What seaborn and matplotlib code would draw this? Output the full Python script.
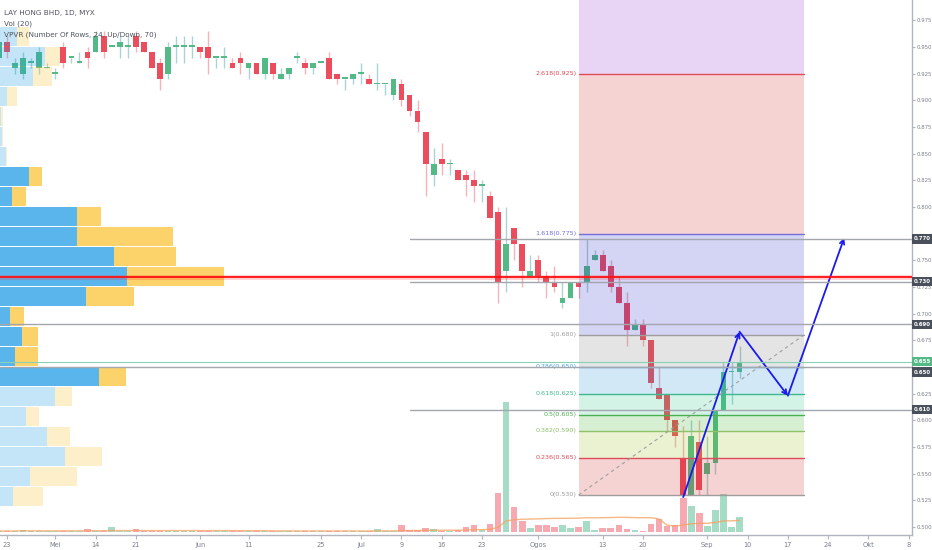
import numpy as np
import pandas as pd
import matplotlib
matplotlib.use("Agg")
import matplotlib.pyplot as plt
import seaborn as sns

# LAY HONG BHD daily candles, day 0 = 23 Apr (trading days)
DAY = list(range(-1, 92))
OPEN = [0.940,
        0.955, 0.930, 0.925, 0.935, 0.930, 0.930, 0.925, 0.950, 0.940, 0.935,
        0.945, 0.945, 0.960, 0.950, 0.950, 0.950, 0.960, 0.955, 0.945, 0.935,
        0.925, 0.950, 0.950, 0.950, 0.950, 0.950, 0.940, 0.940, 0.935, 0.940,
        0.930, 0.935, 0.925, 0.935, 0.920, 0.925, 0.940, 0.935, 0.930, 0.935,
        0.940, 0.925, 0.920, 0.920, 0.925, 0.920, 0.915, 0.915, 0.905, 0.915,
        0.905, 0.890, 0.870, 0.830, 0.845, 0.840, 0.835, 0.830, 0.825, 0.820,
        0.810, 0.795, 0.740, 0.780, 0.765, 0.735, 0.750, 0.735, 0.730, 0.710,
        0.715, 0.730, 0.730, 0.750, 0.755, 0.745, 0.725, 0.710, 0.685, 0.690,
        0.675, 0.630, 0.625, 0.600, 0.565, 0.530, 0.580, 0.550, 0.560, 0.610, 0.645, 0.645]
HIGH = [0.960,
        0.960, 0.940, 0.945, 0.940, 0.950, 0.935, 0.930, 0.955, 0.940, 0.945,
        0.950, 0.965, 0.965, 0.950, 0.960, 0.960, 0.965, 0.955, 0.945, 0.940,
        0.955, 0.960, 0.960, 0.960, 0.950, 0.965, 0.940, 0.950, 0.940, 0.945,
        0.935, 0.935, 0.940, 0.935, 0.930, 0.930, 0.945, 0.940, 0.935, 0.935,
        0.945, 0.925, 0.920, 0.925, 0.935, 0.925, 0.935, 0.915, 0.920, 0.920,
        0.905, 0.900, 0.870, 0.855, 0.860, 0.845, 0.835, 0.835, 0.835, 0.825,
        0.815, 0.800, 0.800, 0.780, 0.765, 0.755, 0.755, 0.740, 0.745, 0.730,
        0.730, 0.730, 0.770, 0.760, 0.760, 0.750, 0.735, 0.720, 0.695, 0.695,
        0.675, 0.650, 0.625, 0.600, 0.595, 0.600, 0.600, 0.585, 0.610, 0.655, 0.655, 0.670]
LOW = [0.935,
       0.940, 0.925, 0.920, 0.930, 0.925, 0.930, 0.920, 0.930, 0.935, 0.935,
       0.930, 0.945, 0.940, 0.950, 0.940, 0.940, 0.945, 0.945, 0.930, 0.910,
       0.920, 0.935, 0.935, 0.940, 0.940, 0.925, 0.930, 0.930, 0.930, 0.925,
       0.920, 0.925, 0.920, 0.920, 0.920, 0.920, 0.935, 0.925, 0.925, 0.935,
       0.920, 0.915, 0.910, 0.915, 0.915, 0.915, 0.910, 0.905, 0.900, 0.895,
       0.885, 0.870, 0.810, 0.820, 0.830, 0.830, 0.825, 0.810, 0.805, 0.805,
       0.790, 0.710, 0.720, 0.750, 0.725, 0.735, 0.730, 0.715, 0.720, 0.705,
       0.715, 0.715, 0.720, 0.750, 0.740, 0.720, 0.710, 0.670, 0.685, 0.670,
       0.630, 0.620, 0.590, 0.575, 0.530, 0.530, 0.530, 0.530, 0.550, 0.610, 0.615, 0.640]
CLOSE = [0.955,
         0.945, 0.935, 0.940, 0.935, 0.945, 0.930, 0.925, 0.935, 0.940, 0.935,
         0.940, 0.960, 0.945, 0.950, 0.955, 0.950, 0.950, 0.945, 0.930, 0.920,
         0.950, 0.950, 0.950, 0.950, 0.945, 0.940, 0.940, 0.940, 0.930, 0.935,
         0.935, 0.925, 0.940, 0.925, 0.925, 0.930, 0.940, 0.930, 0.935, 0.935,
         0.920, 0.920, 0.920, 0.925, 0.925, 0.915, 0.915, 0.915, 0.920, 0.900,
         0.890, 0.880, 0.840, 0.840, 0.840, 0.840, 0.825, 0.825, 0.820, 0.820,
         0.790, 0.730, 0.765, 0.765, 0.740, 0.740, 0.735, 0.730, 0.725, 0.715,
         0.730, 0.725, 0.745, 0.755, 0.740, 0.725, 0.710, 0.685, 0.690, 0.675,
         0.635, 0.620, 0.600, 0.585, 0.530, 0.585, 0.535, 0.560, 0.610, 0.645, 0.645, 0.655]
# volume (estimated, x10k shares)
VOLUME = [1,
          1, 1, 2, 1, 1, 1, 1, 1.5, 1, 1,
          2.7, 1, 1, 4.7, 1, 1, 2.7, 1, 1, 1,
          1, 1, 1, 1, 1.5, 1, 1, 1, 1, 1,
          1, 1, 1, 1, 1, 1, 1, 1, 1, 1,
          1, 1, 1, 1, 1, 1, 3, 1, 1, 7,
          2, 2, 4, 3, 1.5, 1, 2, 5, 7, 2,
          8, 39, 130, 25, 11, 4, 7, 7, 5, 7,
          4, 5, 11, 2, 4, 4, 7, 3, 2, 1,
          8, 13, 6, 7, 34, 26, 19, 6, 22, 38, 5, 15]

# volume profile, 24 rows bottom -> top
VP_LO, VP_HI = 0.519, 0.969
VP_UP = [13, 30, 65, 47, 26, 55, 99, 15, 22, 10, 86, 127, 114, 77, 77, 12, 29, 6, 2, 1, 7, 33, 45, 17]
VP_DOWN = [30, 47, 37, 23, 13, 17, 27, 23, 16, 14, 48, 97, 62, 96, 24, 14, 13, 1, 1, 2, 10, 19, 15, 12]
VA_ROWS = (6, 16)

# fibonacci retracement drawing
FIB_RATIO = [0, 0.236, 0.382, 0.5, 0.618, 0.786, 1, 1.618, 2.618, 3.618]
FIB_PRICE = [0.530, 0.565, 0.590, 0.605, 0.625, 0.650, 0.680, 0.775, 0.925, 1.075]
FIB_LINE = ["#9e9e9e", "#e04b5a", "#8fc06a", "#4caf50", "#3fb890", "#4aa8e8",
            "#9e9e9e", "#7070d8", "#e04b5a", "#9c40d0"]
FIB_FILL = ["#cd2323", "#96be1e", "#32af1e", "#28c387", "#1e8cd2",
            "#787878", "#2828c8", "#cd2323", "#8c28c8"]
FIB_FROM, FIB_TO = 71, 99

# horizontal lines and projected path
LEVELS = [0.770, 0.730, 0.690, 0.650, 0.610]
LEVEL_FROM = [50, 50, -1, -1, 50]
ARROW_X = [84, 91, 97, 104]
ARROW_Y = [0.528, 0.683, 0.623, 0.771]

PRICE_TICKS = [0.500, 0.525, 0.550, 0.575, 0.600, 0.625, 0.675, 0.700, 0.725, 0.750,
               0.800, 0.825, 0.850, 0.875, 0.900, 0.925, 0.950, 0.975]
DATE_POS = [0, 6, 11, 16, 24, 30, 39, 44, 49, 54, 59, 66, 74, 79, 87, 92, 97, 102, 107, 112]
DATE_LABELS = ["23", "Mei", "14", "21", "Jun", "11", "25", "Jul", "9", "16", "23",
               "Ogos", "13", "20", "Sep", "10", "17", "24", "Okt", "8"]

sns.set_theme(style="white")
plt.rcParams["font.family"] = ["DejaVu Sans"]

W, H = 932, 550
fig = plt.figure(figsize=(W / 100, H / 100), dpi=100)
fig.patch.set_facecolor("white")
ax = fig.add_axes([0, 15 / H, 912 / W, 535 / H])
ax_vol = ax.twinx()
ax.set_zorder(2)
ax_vol.set_zorder(1)
ax.patch.set_visible(False)

df = pd.DataFrame({"o": OPEN, "h": HIGH, "l": LOW, "c": CLOSE, "v": VOLUME}, index=DAY)
up = (df.c >= df.o).values
body_lo = df[["o", "c"]].min(axis=1)
body_h = (df.c - df.o).abs().clip(lower=0.0013)

ax.vlines(df.index, df.l, df.h, colors=np.where(up, "#a9d3d6", "#f4b3ba"), lw=1, zorder=2)
ax.bar(df.index, body_h, bottom=body_lo, width=0.72,
       color=np.where(up, "#53b987", "#eb4d5c"), lw=0, zorder=3)

# volume pane
ax_vol.bar(df.index, df.v, width=0.82, color=np.where(up, "#a6dcc6", "#f6a9b0"), lw=0)
ma = df.v.rolling(20, min_periods=1).mean()
sns.lineplot(x=df.index, y=ma.values, ax=ax_vol, color="#f6a05c", lw=1, alpha=0.75)
ax_vol.set_ylim(-3, 532)
ax_vol.axis("off")

XL = (-0.87, 112.42)
ax.set_xlim(*XL)
ax.set_ylim(0.4925, 0.9939)

# fibonacci zones + levels
for k in range(len(FIB_PRICE) - 1):
    ax.fill_between([FIB_FROM, FIB_TO], FIB_PRICE[k], FIB_PRICE[k + 1],
                    color=FIB_FILL[k], alpha=0.2, lw=0, zorder=4)
for r, p, c in zip(FIB_RATIO[:-1], FIB_PRICE[:-1], FIB_LINE[:-1]):
    ax.plot([FIB_FROM, FIB_TO], [p, p], color=c, lw=1, zorder=5)
    ax.text(FIB_FROM - 0.25, p, f"{r:g}({p:.3f})", color=c, fontsize=4.6,
            ha="right", va="center", zorder=6)
ax.plot([FIB_FROM, FIB_TO], [FIB_PRICE[0], FIB_PRICE[6]], color="#9e9e9e",
        lw=0.8, ls=(0, (3, 3)), zorder=5)

for k in range(len(ARROW_X) - 1):
    ax.annotate("", xy=(ARROW_X[k + 1], ARROW_Y[k + 1]), xytext=(ARROW_X[k], ARROW_Y[k]),
                arrowprops=dict(arrowstyle="->", color="#1a1af0", lw=1.3,
                                shrinkA=0, shrinkB=0, mutation_scale=8), zorder=7)

# volume profile overlay
ax_vp = ax.twiny()
ax_vp.set_zorder(3)
ax_vp.patch.set_visible(False)
ax_vp.set_xlim(0, 912)
step = (VP_HI - VP_LO) / len(VP_UP)
centers = [VP_LO + (k + 0.5) * step for k in range(len(VP_UP))]
for k, (u, d) in enumerate(zip(VP_UP, VP_DOWN)):
    a = 0.7 if VA_ROWS[0] <= k <= VA_ROWS[1] else 0.25
    ax_vp.barh(centers[k], u, height=step - 0.0014, color="#1596e6", alpha=a, lw=0)
    ax_vp.barh(centers[k], d, left=u, height=step - 0.0014, color="#fbc02d", alpha=a, lw=0)
poc = centers[int(np.argmax(np.add(VP_UP, VP_DOWN)))]

span = XL[1] - XL[0]
for p, s in zip(LEVELS, LEVEL_FROM):
    ax_vp.axhline(p, xmin=max(0, (s - XL[0]) / span), xmax=1, color="#a3a6ad", lw=1, zorder=4)
ax_vp.axhline(CLOSE[-1], color="#86d2b4", lw=0.8, zorder=4)
ax_vp.axhline(poc, color="#ff2020", lw=3.5, alpha=0.2, zorder=5)
ax_vp.axhline(poc, color="#ff1010", lw=1.3, zorder=5)
ax_vp.axis("off")

# axes styling
for s in ["top", "left"]:
    ax.spines[s].set_visible(False)
for s in ["right", "bottom"]:
    ax.spines[s].set_color("#b2b5be")
    ax.spines[s].set_linewidth(1)
ax.yaxis.tick_right()
ax.set_yticks(PRICE_TICKS, [f"{t:.3f}" for t in PRICE_TICKS])
ax.set_xticks(DATE_POS, DATE_LABELS)
ax.tick_params(axis="y", labelsize=3.9, labelcolor="#7a7f8a", color="#b2b5be",
               length=2, width=0.8, pad=1, right=True, left=False)
ax.tick_params(axis="x", labelsize=4.8, labelcolor="#7a7f8a", color="#b2b5be",
               length=3, width=0.8, pad=2, bottom=True)
ax.grid(False)

# price labels on the scale
tags = [(p, "#4a4f5c") for p in LEVELS] + [(CLOSE[-1], "#53b987")]
pix = sorted([(ax.transData.transform((0, p))[1], p, c) for p, c in tags], reverse=True)
prev = None
for y, p, c in pix:
    if prev is not None and prev - y < 10.5:
        y = prev - 10.5
    prev = y
    fig.text(914 / W, y / H, f"{p:.3f}", fontsize=3.9, color="white", weight="bold",
             ha="left", va="center",
             bbox=dict(boxstyle="square,pad=0.4", fc=c, ec="none"))

# legend lines
for yy, t in [(13, "LAY HONG BHD, 1D, MYX"), (24, "Vol (20)"),
              (35, "VPVR (Number Of Rows, 24, Up/Down, 70)")]:
    fig.text(4 / W, 1 - yy / H, t, fontsize=5.2, color="#50535e", va="center", ha="left")

fig.savefig("out.png", dpi=100, facecolor="white")
